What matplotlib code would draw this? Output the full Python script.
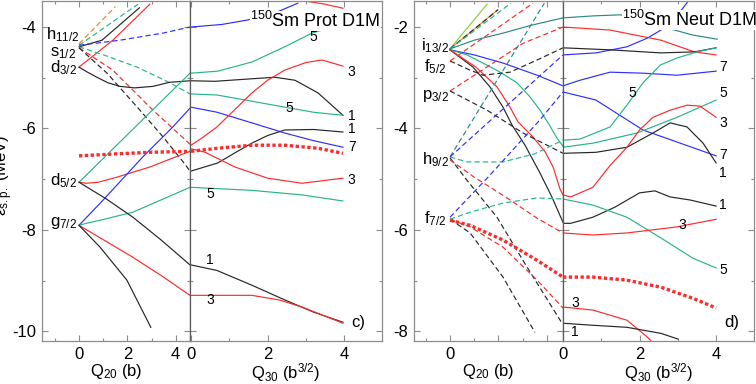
import matplotlib
matplotlib.use('Agg')
import matplotlib.pyplot as plt
from matplotlib.ticker import FixedLocator, FixedFormatter

plt.rcParams['font.family'] = ['Liberation Sans', 'DejaVu Sans']
plt.rcParams['mathtext.fontset'] = 'custom'
plt.rcParams['mathtext.rm'] = 'Liberation Sans'
plt.rcParams['mathtext.it'] = 'Liberation Sans:italic'
plt.rcParams['mathtext.bf'] = 'Liberation Sans:bold'
plt.rcParams['axes.unicode_minus'] = False

# ---------------- Proton, Q20 part  (Q20 [b], energy [MeV]) ----------------
p20_orange_up = ([0, 1.5], [-4.33, -3.60])
p20_tdash_up = ([0, 2.44], [-4.36, -3.55])
p20_black_up = ([0, 0.95, 2.5], [-4.39, -4.26, -3.62])
p20_red_up = ([0, 1.4, 2.93], [-4.79, -4.26, -3.55])
p20_bdash = ([0, 1.69, 3.47, 4.59], [-4.36, -4.26, -4.12, -4.00])
p20_tdash_dn = ([0, 1.2, 2.4, 3.76, 4.59], [-4.39, -4.58, -4.79, -5.10, -5.32])
p20_rdash = ([0, 1.4, 3.06, 4.59], [-4.41, -4.85, -5.64, -6.31])
p20_kdash = ([0, 1.16, 2.52, 3.5, 4.34, 4.59], [-4.41, -4.91, -5.64, -6.18, -6.68, -6.84])
p20_black_d32 = ([0, 0.35, 0.74, 1.2, 1.69, 2.3, 3.06, 3.74, 4.59],
                 [-4.79, -4.89, -4.99, -5.10, -5.17, -5.20, -5.17, -5.09, -5.06])
p20_red_d52 = ([0, 0.3, 0.8, 1.57, 2.93, 4.59], [-7.06, -7.08, -7.06, -6.96, -6.76, -6.45])
p20_fermi = ([0, 1.57, 2.93, 4.59], [-6.54, -6.50, -6.47, -6.45])
p20_teal_d52 = ([0, 4.59], [-7.06, -4.91])
p20_blue_g72 = ([0, 1.0, 2.64, 3.88, 4.59], [-7.91, -7.41, -6.56, -5.97, -5.60])
p20_teal_g72 = ([0, 0.3, 0.87, 2.23, 4.59], [-7.91, -7.87, -7.81, -7.65, -7.16])
p20_red_g72 = ([0, 1.1, 2.23, 3.4, 4.59], [-7.91, -8.22, -8.54, -8.90, -9.29])
p20_black_g72 = ([0, 0.87, 1.98, 2.97], [-7.91, -8.34, -8.99, -9.92])
p20_black_d52 = ([0, 1.1, 2.23, 3.4, 4.59], [-7.06, -7.38, -7.75, -8.20, -8.69])

# ---------------- Proton, Q30 part  (Q30 [b^3/2]) ----------------
p30_blue_top = ([0, 0.8, 1.49, 2.2, 2.79], [-4.00, -3.95, -3.86, -3.72, -3.53])
p30_red_top = ([3.0, 3.5, 3.97], [-3.49, -3.55, -3.63])
p30_teal_5a = ([0, 0.7, 1.59, 2.45, 3.16, 3.7], [-4.91, -4.87, -4.69, -4.39, -4.12, -4.00])
p30_black_1a = ([0, 0.63, 1.4, 2.19, 2.72, 3.32, 3.97], [-5.06, -5.07, -5.03, -4.99, -5.05, -5.30, -5.74])
p30_teal_5b = ([0, 0.68, 1.5, 2.45, 3.2, 3.97], [-5.32, -5.34, -5.45, -5.58, -5.68, -5.74])
p30_blue_7 = ([0, 0.68, 1.59, 2.45, 3.2, 3.97], [-5.58, -5.68, -5.89, -6.09, -6.24, -6.37])
p30_red_3a = ([0, 0.3, 0.68, 1.1, 1.59, 2.0, 2.45, 3.0, 3.42, 3.97],
              [-6.33, -6.18, -5.97, -5.66, -5.30, -5.05, -4.85, -4.70, -4.65, -4.77])
p30_fermi = ([0, 0.7, 1.59, 2.45, 3.32, 3.97], [-6.45, -6.39, -6.33, -6.33, -6.39, -6.49])
p30_black_1b = ([0, 0.7, 1.15, 1.59, 2.0, 2.45, 3.2, 3.97],
                [-6.84, -6.68, -6.48, -6.29, -6.14, -6.03, -6.02, -6.07])
p30_red_3b = ([0, 0.37, 1.15, 2.0, 2.9, 3.97], [-6.40, -6.47, -6.76, -6.98, -7.08, -6.98])
p30_teal_5c = ([0, 1.59, 2.9, 3.97], [-7.16, -7.22, -7.31, -7.43])
p30_black_1c = ([0, 0.68, 1.59, 2.45, 3.2, 3.97], [-8.69, -8.80, -9.09, -9.38, -9.62, -9.82])
p30_red_3c = ([0, 0.8, 1.59, 2.3, 2.9, 3.97], [-9.29, -9.29, -9.29, -9.38, -9.52, -9.84])

# ---------------- Neutron, Q20 part ----------------
n20_lgreen = ([0, 1.53], [-2.43, -1.55])
n20_orange = ([0, 1.98], [-2.43, -1.66])
n20_tdash_up1 = ([0, 2.52], [-2.43, -1.53])
n20_dteal = ([0, 1.0, 2.19, 3.4, 4.67], [-2.43, -2.26, -2.12, -1.96, -1.82])
n20_blue = ([0, 1.0, 2.19, 3.6, 4.67], [-2.45, -2.55, -2.71, -2.95, -3.16])
n20_teal_dn = ([0, 0.70, 1.36, 2.07, 2.77, 3.31, 3.72, 4.13, 4.42, 4.67],
               [-2.45, -2.55, -2.71, -2.89, -3.10, -3.38, -3.64, -3.95, -4.19, -4.35])
n20_black = ([0, 0.95, 1.65, 2.19, 2.56, 3.10, 3.72, 4.21, 4.67],
             [-2.45, -2.79, -3.18, -3.58, -3.93, -4.33, -4.88, -5.35, -5.85])
n20_red = ([0, 1.07, 1.94, 2.48, 2.81, 3.43, 3.93, 4.26, 4.55, 4.67],
           [-2.45, -2.79, -3.18, -3.58, -3.87, -4.17, -4.46, -4.76, -5.20, -5.31])
n20_kdash_f52 = ([0, 0.83, 1.36, 2.48, 3.6, 4.67], [-2.67, -2.85, -2.95, -2.89, -2.65, -2.41])
n20_rdash_f52 = ([0, 3.43], [-2.67, -1.53])
n20_rdash_p32 = ([0, 1.65, 3.02, 4.67], [-3.26, -2.75, -2.32, -2.00])
n20_kdash_p32 = ([0, 1.53, 3.02, 4.67], [-3.26, -3.64, -4.09, -4.49])
n20_tdash_h92_up = ([0, 3.9], [-4.56, -1.53])
n20_tdash_h92 = ([0, 0.7, 2.19, 3.5, 4.67], [-4.56, -4.66, -4.66, -4.50, -4.23])
n20_bdash_h92 = ([0, 4.67], [-4.56, -2.55])
n20_kdash_h92 = ([0, 0.7, 1.94, 3.18, 4.63], [-4.58, -5.02, -5.75, -6.73, -7.84])
n20_rdash_h92 = ([0, 1.0, 2.36, 3.6, 4.67], [-4.62, -4.96, -5.37, -5.77, -6.06])
n20_bdash_f72 = ([0, 1.65, 3.72, 4.67], [-5.75, -4.92, -3.83, -3.28])
n20_tdash_f72 = ([0, 0.83, 2.19, 3.6, 4.67], [-5.79, -5.65, -5.47, -5.37, -5.39])
n20_fermi = ([0, 0.83, 2.19, 3.6, 4.67], [-5.81, -5.91, -6.20, -6.60, -6.93])
n20_rdash_f72 = ([0, 0.83, 2.19, 3.6, 4.67], [-5.79, -5.94, -6.34, -6.99, -7.54])
n20_kdash_f72 = ([0, 0.83, 2.19, 3.51], [-5.79, -6.06, -6.93, -8.02])

# ---------------- Neutron, Q30 part ----------------
n30_dteal = ([0, 0.8, 1.49, 2.2, 2.72, 3.4, 4.03], [-1.82, -1.78, -1.76, -1.84, -2.02, -2.16, -2.24])
n30_blue_top = ([0, 0.86, 1.67, 2.2, 2.56, 3.0, 3.27], [-2.55, -2.51, -2.39, -2.22, -2.06, -1.76, -1.49])
n30_red_top = ([0, 1.23, 2.56, 3.43, 4.0], [-2.00, -2.06, -2.26, -2.49, -2.55])
n30_black_top = ([0, 1.23, 2.56, 3.43, 4.0], [-2.41, -2.45, -2.51, -2.49, -2.41])
n30_blue_7a = ([0, 0.44, 1.23, 2.09, 2.98, 4.0], [-3.16, -3.05, -2.89, -2.91, -2.95, -2.87])
n30_blue_7b = ([0, 0.86, 2.09, 4.0], [-3.28, -3.44, -4.03, -4.54])
n30_teal_a = ([0, 0.44, 1.23, 1.67, 2.09, 2.54, 2.98, 3.5, 4.0],
              [-4.23, -4.21, -3.97, -3.54, -3.10, -2.75, -2.61, -2.49, -2.41])
n30_teal_5 = ([0, 0.78, 1.93, 2.98, 4.0], [-4.37, -4.29, -4.09, -3.78, -3.44])
n30_black_1a = ([0, 0.86, 1.67, 2.35, 2.8, 3.24, 3.66, 4.0],
                [-4.49, -4.47, -4.37, -4.09, -3.89, -3.97, -4.29, -4.68])
n30_red_3a = ([0, 0.2, 0.78, 1.23, 1.67, 2.0, 2.35, 2.8, 3.24, 3.58, 4.0],
              [-5.31, -5.35, -5.16, -4.73, -4.37, -4.03, -3.78, -3.64, -3.54, -3.56, -3.78])
n30_black_1b = ([0, 0.2, 0.78, 1.36, 2.0, 2.4, 2.8, 3.32, 4.0],
                [-5.87, -5.87, -5.75, -5.55, -5.27, -5.23, -5.35, -5.41, -5.53])
n30_teal_5b = ([0, 0.78, 1.67, 2.56, 3.4, 4.0], [-5.39, -5.51, -5.75, -6.16, -6.56, -6.75])
n30_red_3b = ([0, 0.78, 1.67, 2.98, 4.0], [-6.06, -6.10, -6.06, -5.94, -5.79])
n30_fermi = ([0, 0.78, 1.67, 2.56, 3.4, 4.0], [-6.93, -6.93, -6.99, -7.13, -7.35, -7.54])
n30_red_3c = ([0, 0.78, 1.67, 2.2, 2.3], [-7.52, -7.58, -7.78, -8.11, -8.19])
n30_black_1c = ([0, 0.78, 1.67, 2.56, 3.0], [-7.84, -7.88, -7.92, -8.04, -8.15])

# ---------------- text labels ----------------
p_orbit_names = [r'h$_{11/2}$', r's$_{1/2}$', r'd$_{3/2}$', r'd$_{5/2}$', r'g$_{7/2}$']
p_orbit_e = [-4.15, -4.52, -4.80, -7.02, -7.87]
n_orbit_names = [r'i$_{13/2}$', r'f$_{5/2}$', r'p$_{3/2}$', r'h$_{9/2}$', r'f$_{7/2}$']
n_orbit_e = [-2.36, -2.79, -3.36, -4.62, -5.77]
p_k_text = ['5', '3', '5', '1', '1', '7', '3', '5', '1', '3']
p_k_q = [3.19, 4.2, 2.58, 4.2, 4.2, 4.2, 4.2, 0.5, 0.5, 0.5]
p_k_e = [-4.19, -4.89, -5.60, -5.76, -6.01, -6.36, -7.02, -7.29, -8.60, -9.38]
n_k_text = ['7', '5', '3', '7', '1', '5', '1', '3', '5', '3', '1']
n_k_q = [4.18, 4.18, 4.18, 4.18, 4.18, 1.8, 4.18, 3.11, 4.18, 0.31, 0.31]
n_k_e = [-2.79, -3.30, -3.89, -4.52, -4.88, -3.30, -5.51, -5.91, -6.79, -7.44, -8.02]

C = {'k': '#262626', 'r': '#ff2a2a', 'b': '#2e2eff', 'g': '#27b58c',
     'dt': '#2a8a8a', 'lg': '#88cf3a', 'o': '#e58a2a'}

prot_q20 = [(p20_orange_up, 'o', 'dash'), (p20_tdash_up, 'g', 'dash'),
            (p20_black_up, 'k', 'solid'), (p20_red_up, 'r', 'solid'),
            (p20_bdash, 'b', 'dash'), (p20_tdash_dn, 'g', 'dash'),
            (p20_rdash, 'r', 'dash'), (p20_kdash, 'k', 'dash'),
            (p20_black_d32, 'k', 'solid'), (p20_red_d52, 'r', 'solid'),
            (p20_teal_d52, 'g', 'solid'), (p20_blue_g72, 'b', 'solid'),
            (p20_teal_g72, 'g', 'solid'), (p20_red_g72, 'r', 'solid'),
            (p20_black_g72, 'k', 'solid'), (p20_black_d52, 'k', 'solid'),
            (p20_fermi, 'r', 'dot')]
prot_q30 = [(p30_blue_top, 'b', 'solid'), (p30_red_top, 'r', 'solid'),
            (p30_teal_5a, 'g', 'solid'), (p30_black_1a, 'k', 'solid'),
            (p30_teal_5b, 'g', 'solid'), (p30_blue_7, 'b', 'solid'),
            (p30_red_3a, 'r', 'solid'), (p30_black_1b, 'k', 'solid'),
            (p30_red_3b, 'r', 'solid'), (p30_teal_5c, 'g', 'solid'),
            (p30_black_1c, 'k', 'solid'), (p30_red_3c, 'r', 'solid'),
            (p30_fermi, 'r', 'dot')]
neut_q20 = [(n20_lgreen, 'lg', 'solid'), (n20_orange, 'o', 'solid'),
            (n20_orange, 'k', 'dash'), (n20_tdash_up1, 'g', 'dash'),
            (n20_dteal, 'dt', 'solid'), (n20_blue, 'b', 'solid'),
            (n20_teal_dn, 'g', 'solid'), (n20_black, 'k', 'solid'),
            (n20_red, 'r', 'solid'), (n20_kdash_f52, 'k', 'dash'),
            (n20_rdash_f52, 'r', 'dash'), (n20_rdash_p32, 'r', 'dash'),
            (n20_kdash_p32, 'k', 'dash'), (n20_tdash_h92_up, 'dt', 'dash'),
            (n20_tdash_h92, 'g', 'dash'), (n20_bdash_h92, 'b', 'dash'),
            (n20_kdash_h92, 'k', 'dash'), (n20_rdash_h92, 'r', 'dash'),
            (n20_bdash_f72, 'b', 'dash'), (n20_tdash_f72, 'g', 'dash'),
            (n20_rdash_f72, 'r', 'dash'), (n20_kdash_f72, 'k', 'dash'),
            (n20_fermi, 'r', 'dot')]
neut_q30 = [(n30_dteal, 'dt', 'solid'), (n30_blue_top, 'b', 'solid'),
            (n30_red_top, 'r', 'solid'), (n30_black_top, 'k', 'solid'),
            (n30_blue_7a, 'b', 'solid'), (n30_blue_7b, 'b', 'solid'),
            (n30_teal_a, 'g', 'solid'), (n30_teal_5, 'g', 'solid'),
            (n30_black_1a, 'k', 'solid'), (n30_red_3a, 'r', 'solid'),
            (n30_black_1b, 'k', 'solid'), (n30_teal_5b, 'g', 'solid'),
            (n30_red_3b, 'r', 'solid'), (n30_red_3c, 'r', 'solid'),
            (n30_black_1c, 'k', 'solid'), (n30_fermi, 'r', 'dot')]

W, H = 756, 384
fig = plt.figure(figsize=(W / 100, H / 100), dpi=100)


def add_ax(x0, x1, y0=1, y1=341):
    return fig.add_axes([x0 / W, 1 - y1 / H, (x1 - x0) / W, (y1 - y0) / H])


GRAY = '#8c8c8c'
DIV = '#5a5a5a'


def style(ax, xlim, ylim, xmaj, xlab, xmin, ymaj, ylab, ymin, show_y):
    ax.set_xlim(xlim)
    ax.set_ylim(ylim)
    ax.xaxis.set_major_locator(FixedLocator(xmaj))
    ax.xaxis.set_major_formatter(FixedFormatter(xlab))
    ax.xaxis.set_minor_locator(FixedLocator(xmin))
    ax.yaxis.set_major_locator(FixedLocator(ymaj))
    ax.yaxis.set_major_formatter(FixedFormatter(ylab))
    ax.yaxis.set_minor_locator(FixedLocator(ymin))
    ax.tick_params(which='both', direction='in', top=True, right=True,
                   color=GRAY, labelsize=12, labelcolor='black', pad=4)
    ax.tick_params(which='major', length=4, width=0.8)
    ax.tick_params(which='minor', length=2.5, width=0.8)
    if not show_y:
        ax.tick_params(labelleft=False)
    for s in ax.spines.values():
        s.set_color(GRAY)
        s.set_linewidth(0.9)


def draw(ax, spec):
    for (q, e), col, sty in spec:
        if sty == 'solid':
            ax.plot(q, e, color=C[col], lw=0.85)
        elif sty == 'dash':
            ax.plot(q, e, color=C[col], lw=0.85, dashes=(4.5, 2.6))
        else:
            ax.plot(q, e, color=C[col], lw=2.4, dashes=(1.0, 0.75),
                    dash_capstyle='butt', zorder=4)


ax_p20 = add_ax(42, 190)
ax_p30 = add_ax(190, 382)
ax_n20 = add_ax(414, 563)
ax_n30 = add_ax(563, 754)

ylim_p = (-10.19, -3.487)
ylim_n = (-8.19, -1.487)
style(ax_p20, (-1.53, 4.59), ylim_p, [0, 2, 4], ['0', '2', '4'], [-1, 1, 3],
      [-10, -8, -6, -4], ['-10', '-8', '-6', '-4'], [-9, -7, -5], True)
style(ax_p30, (-0.026, 4.99), ylim_p, [0, 2, 4], ['0', '2', '4'], [1, 3],
      [-10, -8, -6, -4], ['', '', '', ''], [-9, -7, -5], False)
style(ax_n20, (-1.49, 4.67), ylim_n, [0, 2, 4], ['0', '', ''], [-1, 1, 3],
      [-8, -6, -4, -2], ['-8', '-6', '-4', '-2'], [-7, -5, -3], True)
style(ax_n30, (0.0, 4.99), ylim_n, [0, 2, 4], ['0', '2', '4'], [1, 3],
      [-8, -6, -4, -2], ['', '', '', ''], [-7, -5, -3], False)
for a in (ax_p20, ax_n20):
    a.spines['right'].set_color(DIV)
for a in (ax_p30, ax_n30):
    a.spines['left'].set_color(DIV)

draw(ax_p20, prot_q20)
draw(ax_p30, prot_q30)
draw(ax_n20, neut_q20)
draw(ax_n30, neut_q30)

for a in (ax_p20, ax_n20):
    a.set_xlabel(r'Q$_{20}$ (b)', fontsize=12, labelpad=0)
for a in (ax_p30, ax_n30):
    a.set_xlabel(r'Q$_{30}$ (b$^{3/2}$)', fontsize=12, labelpad=0)

for name, e in zip(p_orbit_names, p_orbit_e):
    ax_p20.text(-0.66, e, name, fontsize=12, ha='center', va='center')
for name, e in zip(n_orbit_names, n_orbit_e):
    ax_n20.text(-0.62, e, name, fontsize=12, ha='center', va='center')

for t, q, e in zip(p_k_text, p_k_q, p_k_e):
    ax_p30.text(q, e, t, fontsize=10, ha='center', va='center', zorder=7)
for t, q, e in zip(n_k_text, n_k_q, n_k_e):
    ax_n30.text(q, e, t, fontsize=10, ha='center', va='center', zorder=7)

ax_p30.text(4.36, -9.82, 'c)', fontsize=12, ha='center', va='center')
ax_n30.text(4.42, -7.82, 'd)', fontsize=12, ha='center', va='center')

box = dict(facecolor='white', edgecolor='none', pad=0.3)
ax_p30.text(1.54, -4.0, r'$^{150}$Sm Prot D1M', fontsize=13, ha='left',
            va='baseline', bbox=box, zorder=6, clip_on=False)
ax_n30.text(1.54, -1.98, r'$^{150}$Sm Neut D1M', fontsize=13, ha='left',
            va='baseline', bbox=box, zorder=6, clip_on=False)

fig.text(4 / W, 1 - 175 / H, r'ε$_{\mathrm{s.p.}}$ (MeV)', rotation=90,
         fontsize=12, ha='center', va='center')

fig.savefig('out.png', dpi=100)
